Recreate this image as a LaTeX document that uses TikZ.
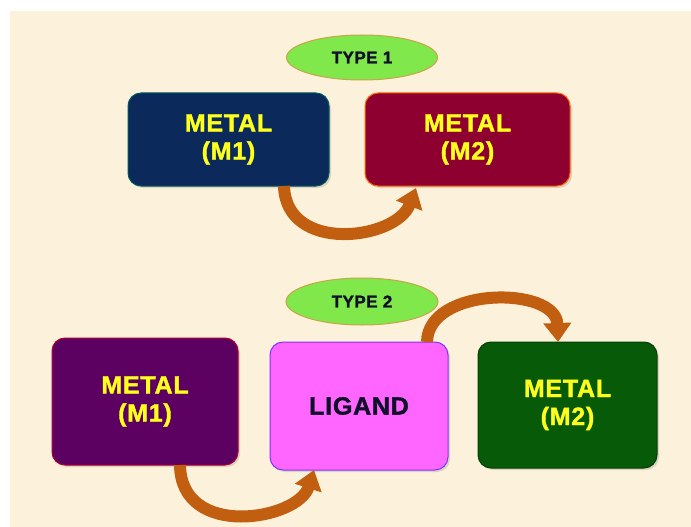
\documentclass[tikz,border=0pt]{standalone}
\usepackage{fontspec}
\setmainfont{Liberation Sans}
\newfontfamily\heavyfont[FakeBold=1.5,LetterSpace=3]{Liberation Sans Bold}
\usetikzlibrary{arrows.meta,shapes.geometric,shadows}
\definecolor{bgcream}{HTML}{FCF1DA}
\definecolor{navy}{HTML}{0B2A5B}
\definecolor{crimson}{HTML}{8E0030}
\definecolor{plum}{HTML}{5C0062}
\definecolor{pinkish}{HTML}{FF66FF}
\definecolor{forest}{HTML}{075A07}
\definecolor{lime}{HTML}{80E84A}
\definecolor{limeedge}{HTML}{C8A448}
\definecolor{arrowcol}{HTML}{C25E0F}
\definecolor{txtyellow}{HTML}{FFFF1E}
\definecolor{txtdark}{HTML}{10102A}
\tikzset{
  box/.style={rectangle, rounded corners=13pt, outer sep=0pt, line width=1pt,
    align=center, font=\heavyfont\fontsize{25}{28}\selectfont, text=txtyellow,
    drop shadow={opacity=0.25, shadow xshift=2pt, shadow yshift=-2pt}},
  typeoval/.style={ellipse, fill=lime, draw=limeedge, line width=1pt, inner sep=0pt,
    font=\heavyfont\fontsize{17}{20}\selectfont, text=txtdark},
  bend arrow/.style={line width=12pt, draw=arrowcol,
    -{Triangle[width=27pt,length=19pt]}}
}
\begin{document}
\begin{tikzpicture}[x=1pt,y=-1pt]
\useasboundingbox (0,0) rectangle (691,527);
\fill[white] (0,0) rectangle (691,527);
\fill[bgcream] (10,11) rectangle (691,527);

% TYPE 1
\node[typeoval, minimum width=151pt, minimum height=45pt] (e1) at (362,57.5) {TYPE 1};
\node[box, fill=navy, draw=teal!70!black, minimum width=201pt, minimum height=93pt] (tm1) at (228.5,139.5) {METAL\\(M1)};
\node[box, fill=crimson, draw=orange!80!red, minimum width=205pt, minimum height=93pt] (tm2) at (467.5,139.5) {METAL\\(M2)};
\draw[bend arrow] ([xshift=55.5pt]tm1.south) .. controls (286,254) and (396,240) .. ([xshift=51pt,yshift=-2pt]tm2.south west);

% TYPE 2
\node[typeoval, minimum width=152pt, minimum height=47pt] (e2) at (362,301.5) {TYPE 2};
\node[box, fill=plum, draw=red!50!plum, minimum width=186pt, minimum height=127pt] (bm1) at (145,401.5) {METAL\\(M1)};
\node[box, fill=pinkish, draw=blue!50!pinkish, text=txtdark, minimum width=178pt, minimum height=128pt] (lig) at (359,406) {LIGAND};
\node[box, fill=forest, draw=forest!70!black, minimum width=179pt, minimum height=126pt] (bm2) at (567.5,405) {METAL\\(M2)};
\draw[bend arrow] ([xshift=35pt]bm1.south) .. controls (181,540) and (298,520) .. ([xshift=44pt]lig.south west);
\draw[bend arrow] ([xshift=-21pt]lig.north east) .. controls (428,286) and (556,286) .. ([xshift=-9.5pt]bm2.north);
\end{tikzpicture}
\end{document}
